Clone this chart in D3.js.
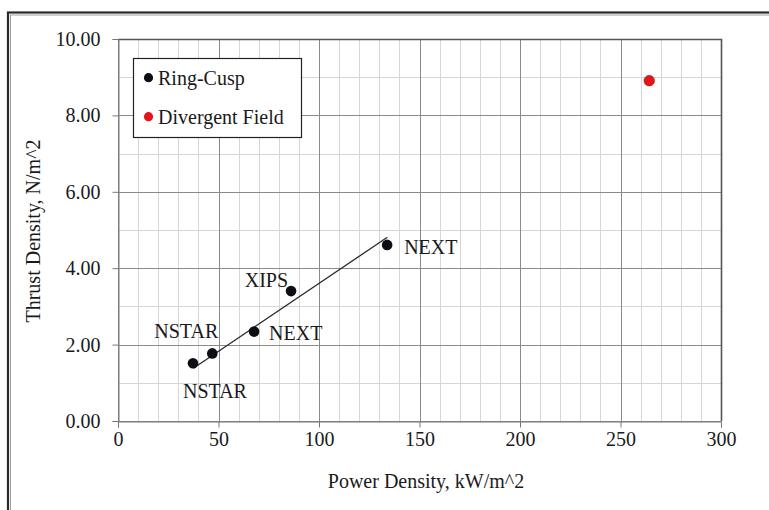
<!DOCTYPE html>
<html>
<head>
<meta charset="utf-8">
<script src="https://cdn.jsdelivr.net/npm/d3@7"></script>
<style>
  html, body { margin: 0; padding: 0; background: #fff; }
  svg { display: block; }
  text { font-family: "Liberation Serif", "Times New Roman", serif; fill: #1a1a1a; }
</style>
</head>
<body>
<svg id="chart" width="769" height="510"></svg>
<script>
// Thruster names and their measured densities
const ringCuspNames = ["NSTAR", "NSTAR", "NEXT", "XIPS", "NEXT"];
const ringCuspPower = [37.3, 46.9, 67.7, 86.1, 133.9];   // kW/m^2
const ringCuspThrust = [1.51, 1.77, 2.34, 3.40, 4.61];   // N/m^2

const divergentNames = ["Divergent Field"];
const divergentPower = [264.3];
const divergentThrust = [8.91];

// Fitted line across the ring-cusp group (endpoints in data units)
const trendPower = [37.5, 134.0];
const trendThrust = [1.38, 4.81];

const seriesNames = ["Ring-Cusp", "Divergent Field"];
const xTicks = [0, 50, 100, 150, 200, 250, 300];
const yTicks = [0, 2, 4, 6, 8, 10];
const xMinorStep = 10;
const yMinorStep = 1;

// Label placement relative to each ring-cusp point: [dx, dy, anchor]
const labelPlacement = [
  [-10, 35, "start"],
  [6, -15, "end"],
  [15, 8.5, "start"],
  [-3, -4, "end"],
  [17, 9, "start"]
];

const svg = d3.select("#chart");

// Outer double frame
svg.append("rect").attr("x", 8).attr("y", 12.5).attr("width", 820).attr("height", 620)
  .attr("fill", "none").attr("stroke", "#2a2a2a").attr("stroke-width", 2.2);
svg.append("rect").attr("x", 10.5).attr("y", 15).attr("width", 820).attr("height", 620)
  .attr("fill", "none").attr("stroke", "#a0a0a0").attr("stroke-width", 1);

const plot = { left: 118, right: 721, top: 39, bottom: 421 };
const x = d3.scaleLinear().domain([0, 300]).range([plot.left, plot.right]);
const y = d3.scaleLinear().domain([0, 10]).range([plot.bottom, plot.top]);

const grid = svg.append("g");
// Minor gridlines
grid.selectAll(".vminor").data(d3.range(0, 300 + 1e-9, xMinorStep)).join("line")
  .attr("x1", d => Math.round(x(d)) + 0.5).attr("x2", d => Math.round(x(d)) + 0.5)
  .attr("y1", plot.top).attr("y2", plot.bottom)
  .attr("stroke", "#d6d6d6").attr("stroke-width", 1);
grid.selectAll(".hminor").data(d3.range(0, 10 + 1e-9, yMinorStep)).join("line")
  .attr("y1", d => Math.round(y(d)) + 0.5).attr("y2", d => Math.round(y(d)) + 0.5)
  .attr("x1", plot.left).attr("x2", plot.right)
  .attr("stroke", "#d6d6d6").attr("stroke-width", 1);
// Major gridlines
grid.selectAll(".vmajor").data(xTicks).join("line")
  .attr("x1", d => Math.round(x(d)) + 0.5).attr("x2", d => Math.round(x(d)) + 0.5)
  .attr("y1", plot.top).attr("y2", plot.bottom)
  .attr("stroke", "#8a8a8a").attr("stroke-width", 1);
grid.selectAll(".hmajor").data(yTicks).join("line")
  .attr("y1", d => Math.round(y(d)) + 0.5).attr("y2", d => Math.round(y(d)) + 0.5)
  .attr("x1", plot.left).attr("x2", plot.right)
  .attr("stroke", "#8a8a8a").attr("stroke-width", 1);

// Plot area border (top and right)
svg.append("path")
  .attr("d", `M${plot.left},${plot.top + 0.5}H${plot.right + 0.5}V${plot.bottom}`)
  .attr("fill", "none").attr("stroke", "#555").attr("stroke-width", 1.6);

// Axes
const yAxis = d3.axisLeft(y).tickValues(yTicks).tickFormat(d3.format(".2f"))
  .tickSize(6).tickPadding(12);
const gy = svg.append("g").attr("transform", `translate(${plot.left + 0.5},0)`).call(yAxis);
gy.selectAll("path, line").attr("stroke", "#777").attr("stroke-width", 1);
gy.selectAll("text").attr("font-size", 20).style("font-family", "Liberation Serif, serif").attr("fill", "#1a1a1a");

const xAxis = d3.axisBottom(x).tickValues(xTicks).tickFormat(d3.format("d"))
  .tickSize(6).tickPadding(4);
const gx = svg.append("g").attr("transform", `translate(0,${plot.bottom + 0.5})`).call(xAxis);
gx.selectAll("path, line").attr("stroke", "#777").attr("stroke-width", 1);
gx.selectAll("text").attr("font-size", 20).style("font-family", "Liberation Serif, serif").attr("fill", "#1a1a1a");

// Axis titles
svg.append("text").attr("transform", "translate(40,231) rotate(-90)")
  .attr("text-anchor", "middle").attr("font-size", 20)
  .text("Thrust Density, N/m^2");
svg.append("text").attr("x", 426).attr("y", 488)
  .attr("text-anchor", "middle").attr("font-size", 20)
  .text("Power Density, kW/m^2");

// Trend line
svg.append("line")
  .attr("x1", x(trendPower[0])).attr("y1", y(trendThrust[0]))
  .attr("x2", x(trendPower[1])).attr("y2", y(trendThrust[1]))
  .attr("stroke", "#2a2a2a").attr("stroke-width", 1.3);

// Ring-cusp points and labels
const ringData = ringCuspNames.map((n, i) => ({ name: n, p: ringCuspPower[i], t: ringCuspThrust[i], place: labelPlacement[i] }));
svg.append("g").selectAll("circle").data(ringData).join("circle")
  .attr("cx", d => x(d.p)).attr("cy", d => y(d.t)).attr("r", 5.3)
  .attr("fill", "#0d0d14");
svg.append("g").selectAll("text").data(ringData).join("text")
  .attr("x", d => x(d.p) + d.place[0]).attr("y", d => y(d.t) + d.place[1])
  .attr("text-anchor", d => d.place[2]).attr("font-size", 20)
  .text(d => d.name);

// Divergent-field point
svg.append("g").selectAll("circle").data(divergentPower.map((p, i) => ({ p, t: divergentThrust[i] }))).join("circle")
  .attr("cx", d => x(d.p)).attr("cy", d => y(d.t)).attr("r", 5.3)
  .attr("fill", "#e3141d").attr("stroke", "#b01018").attr("stroke-width", 0.6);

// Legend
const legend = svg.append("g");
legend.append("rect").attr("x", 133.5).attr("y", 58.5).attr("width", 168).attr("height", 79)
  .attr("fill", "#fff").attr("stroke", "#222").attr("stroke-width", 1.2);
const legendColors = ["#0d0d14", "#e3141d"];
seriesNames.forEach((name, i) => {
  const cy = 77.7 + i * 39;
  legend.append("circle").attr("cx", 148.5).attr("cy", cy).attr("r", 4.6).attr("fill", legendColors[i]);
  legend.append("text").attr("x", 158).attr("y", cy + 7).attr("font-size", 20).text(name);
});
</script>
</body>
</html>
